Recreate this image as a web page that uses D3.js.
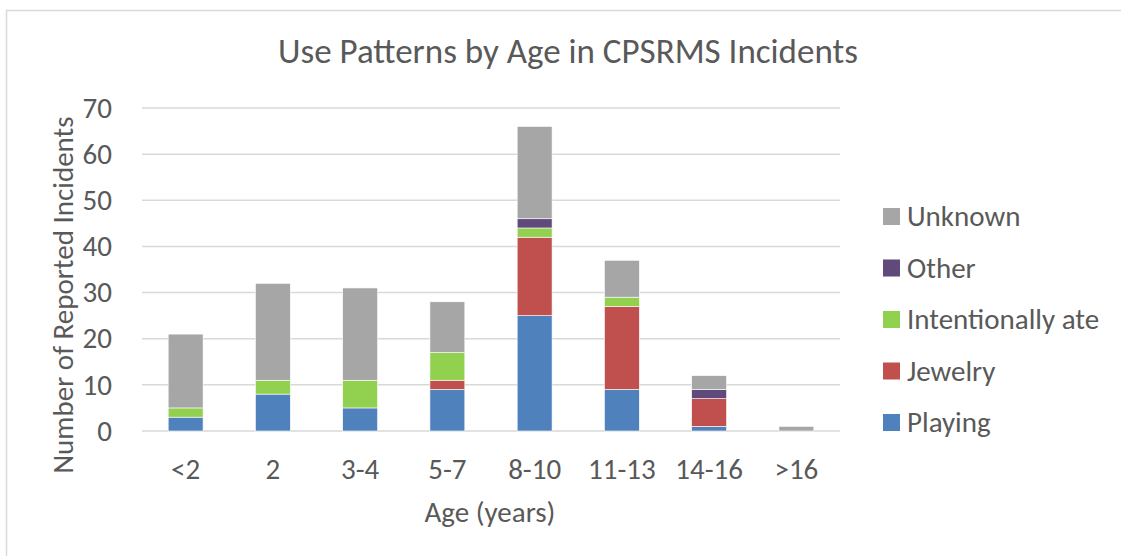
<!DOCTYPE html>
<html>
<head>
<meta charset="utf-8">
<script src="https://cdn.jsdelivr.net/npm/d3@7"></script>
<style>
  body { margin: 0; background: #fff; }
  text { font-family: Carlito, "Liberation Sans", sans-serif; fill: #595959; }
</style>
</head>
<body>
<svg id="chart" width="1121" height="556"></svg>
<script>
// data
var ages = ["<2", "2", "3-4", "5-7", "8-10", "11-13", "14-16", ">16"];
var playing     = [3, 8, 5, 9, 25, 9, 1, 0];
var jewelry     = [0, 0, 0, 2, 17, 18, 6, 0];
var intentional = [2, 3, 6, 6, 2, 2, 0, 0];
var other       = [0, 0, 0, 0, 2, 0, 2, 0];
var unknown     = [16, 21, 20, 11, 20, 8, 3, 1];
var seriesNames = ["Playing", "Jewelry", "Intentionally ate", "Other", "Unknown"];
var yTicks = [0, 10, 20, 30, 40, 50, 60, 70];

var colors = {
    "Playing": "#4f81bd",
    "Jewelry": "#c0504d",
    "Intentionally ate": "#92d050",
    "Other": "#604a7b",
    "Unknown": "#a6a6a6"
};

var table = ages.map(function(a, i) {
    return {
        age: a,
        "Playing": playing[i],
        "Jewelry": jewelry[i],
        "Intentionally ate": intentional[i],
        "Other": other[i],
        "Unknown": unknown[i]
    };
});

var margin = { top: 108, left: 142 },
    width = 698,
    height = 323;

var svg = d3.select("#chart");

// outer frame
svg.append("rect")
    .attr("x", 6.5).attr("y", 10.5)
    .attr("width", 1130).attr("height", 560)
    .attr("fill", "none")
    .attr("stroke", "#d9d9d9")
    .attr("stroke-width", 1.5);

var x = d3.scaleBand().domain(ages).range([0, width]).paddingInner(0.6).paddingOuter(0.3);
var y = d3.scaleLinear().domain([0, 70]).range([height, 0]);

var chart = svg.append("g")
    .attr("transform", "translate(" + margin.left + "," + margin.top + ")");

// grid
chart.selectAll(".grid")
    .data(yTicks)
    .enter().append("line")
    .attr("x1", 0).attr("x2", width)
    .attr("y1", function(d) { return y(d); })
    .attr("y2", function(d) { return y(d); })
    .attr("stroke", "#d9d9d9")
    .attr("stroke-width", 1.5);

var stack = d3.stack().keys(seriesNames)(table);

chart.selectAll(".series")
    .data(stack)
    .enter().append("g")
    .attr("fill", function(d) { return colors[d.key]; })
    .selectAll("rect")
    .data(function(d) { return d; })
    .enter().append("rect")
    .attr("x", function(d) { return x(d.data.age); })
    .attr("width", x.bandwidth())
    .attr("y", function(d) { return y(d[1]); })
    .attr("height", function(d) { return y(d[0]) - y(d[1]); })
    .attr("stroke", "#fff")
    .attr("stroke-width", function(d) { return d[1] > d[0] ? 0.6 : 0; });

// y axis labels
var yAxis = d3.axisLeft(y).tickValues(yTicks).tickSize(0).tickPadding(30);
var yg = chart.append("g").call(yAxis);
yg.select(".domain").remove();
yg.selectAll("text").style("font-size", "29px").attr("fill", "#595959");

// x axis labels
var xAxis = d3.axisBottom(x).tickSize(0).tickPadding(27);
var xg = chart.append("g").attr("transform", "translate(0," + height + ")").call(xAxis);
xg.select(".domain").remove();
xg.selectAll("text").style("font-size", "29px").attr("fill", "#595959");

// title
svg.append("text")
    .attr("x", 568).attr("y", 63)
    .attr("text-anchor", "middle")
    .style("font-size", "35px")
    .text("Use Patterns by Age in CPSRMS Incidents");

// axis titles
svg.append("text")
    .attr("transform", "translate(73,295) rotate(-90)")
    .attr("text-anchor", "middle")
    .style("font-size", "29px")
    .text("Number of Reported Incidents");

svg.append("text")
    .attr("x", 490).attr("y", 522)
    .attr("text-anchor", "middle")
    .style("font-size", "29px")
    .text("Age (years)");

// legend
var legendOrder = seriesNames.slice().reverse();
var legend = svg.append("g").selectAll("g")
    .data(legendOrder)
    .enter().append("g")
    .attr("transform", function(d, i) { return "translate(883," + (216 + i * 51.5) + ")"; });

legend.append("rect")
    .attr("x", 0).attr("y", -8)
    .attr("width", 17).attr("height", 17)
    .attr("fill", function(d) { return colors[d]; });

legend.append("text")
    .attr("x", 24).attr("y", 10)
    .style("font-size", "29px")
    .text(function(d) { return d; });
</script>
</body>
</html>
